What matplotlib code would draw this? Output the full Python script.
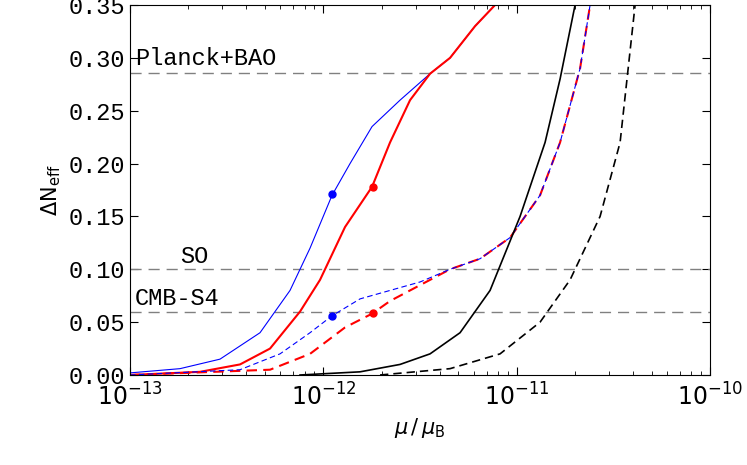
import numpy as np
import matplotlib
matplotlib.use("Agg")
import matplotlib.pyplot as plt
from matplotlib.ticker import LogLocator, NullFormatter

def px2x(p):
    return 10 ** (-13 + (np.array(p) - 130) / 193.3)

blue_solid_px = [130,180,220,260,290,310,332,350,372,400,430,450,475,495]
blue_solid_y = [0.002,0.006,0.015,0.04,0.08,0.12,0.17,0.2,0.235,0.26,0.285,0.30,0.33,0.35]
red_solid_px = [130,200,240,270,300,320,345,372,390,410,430,450,475,495]
red_solid_y = [0.0,0.003,0.01,0.025,0.06,0.09,0.14,0.178,0.22,0.26,0.285,0.30,0.33,0.35]
blue_dash_px = [130,240,280,310,332,360,390,420,450,480,510,540,560,580,590]
blue_dash_y = [0.0,0.005,0.02,0.04,0.056,0.072,0.08,0.088,0.10,0.11,0.13,0.17,0.22,0.29,0.35]
red_dash_px = [130,270,310,345,372,390,420,450,480,510,540,560,580,590]
red_dash_y = [0.0,0.005,0.02,0.045,0.058,0.07,0.085,0.10,0.11,0.13,0.17,0.22,0.29,0.35]
black_solid_px = [300,360,400,430,460,490,520,545,560,575]
black_solid_y = [0.0,0.003,0.01,0.02,0.04,0.08,0.15,0.22,0.28,0.35]
black_dash_px = [380,450,500,540,570,600,620,635]
black_dash_y = [0.0,0.006,0.02,0.05,0.09,0.15,0.22,0.35]
dots_blue_x = [1.11e-12, 1.11e-12]
dots_blue_y = [0.171, 0.056]
dots_red_x = [1.8e-12, 1.8e-12]
dots_red_y = [0.178, 0.059]
hlines = [0.286, 0.10, 0.06]
hlabels = ["Planck+BAO", "SO", "CMB-S4"]

mono = "Liberation Mono"
fig = plt.figure(figsize=(7.47, 4.65), dpi=100)
ax = fig.add_axes([130/747, 90/465, 580/747, 370/465])
for y in hlines:
    ax.axhline(y, color="gray", ls=(0, (8, 5)), lw=1)
ax.text(px2x(135), 0.293, hlabels[0], family=mono, fontsize=17)
ax.text(px2x(180), 0.106, hlabels[1], family=mono, fontsize=17)
ax.text(px2x(135), 0.066, hlabels[2], family=mono, fontsize=17)
ax.plot(px2x(blue_solid_px), blue_solid_y, color="blue", lw=0.8)
ax.plot(px2x(red_solid_px), red_solid_y, color="red", lw=1.5)
ax.plot(px2x(red_dash_px), red_dash_y, color="red", lw=1.5, ls=(0, (5, 3)))
ax.plot(px2x(blue_dash_px), blue_dash_y, color="blue", lw=0.8, ls=(0, (5, 3)))
ax.plot(px2x(black_solid_px), black_solid_y, color="black", lw=1.2)
ax.plot(px2x(black_dash_px), black_dash_y, color="black", lw=1.2, ls=(0, (5, 3)))
ax.plot(dots_blue_x, dots_blue_y, "o", color="blue", ms=5)
ax.plot(dots_red_x, dots_red_y, "o", color="red", ms=5)
ax.set_xscale("log")
ax.set_xlim(1e-13, 1e-10)
ax.set_ylim(0, 0.35)
ax.set_yticks(np.arange(0, 0.36, 0.05))
ax.set_yticklabels([f"{v:.2f}" for v in np.arange(0, 0.36, 0.05)], family=mono, fontsize=17)
ax.xaxis.set_minor_locator(LogLocator(subs=np.arange(2, 10), numticks=20))
ax.xaxis.set_minor_formatter(NullFormatter())
ax.tick_params(which="both", direction="in", top=True, right=True, labelsize=17)
ax.tick_params(which="major", length=6)
ax.tick_params(which="minor", length=3)
ax.tick_params(axis="x", pad=6)
ax.set_xlabel(r"$\mu\,/\,\mu_\mathrm{B}$", fontsize=15)
ax.set_ylabel(r"$\Delta\mathrm{N}_\mathrm{eff}$", fontsize=15)
fig.savefig("out.png", dpi=100)
